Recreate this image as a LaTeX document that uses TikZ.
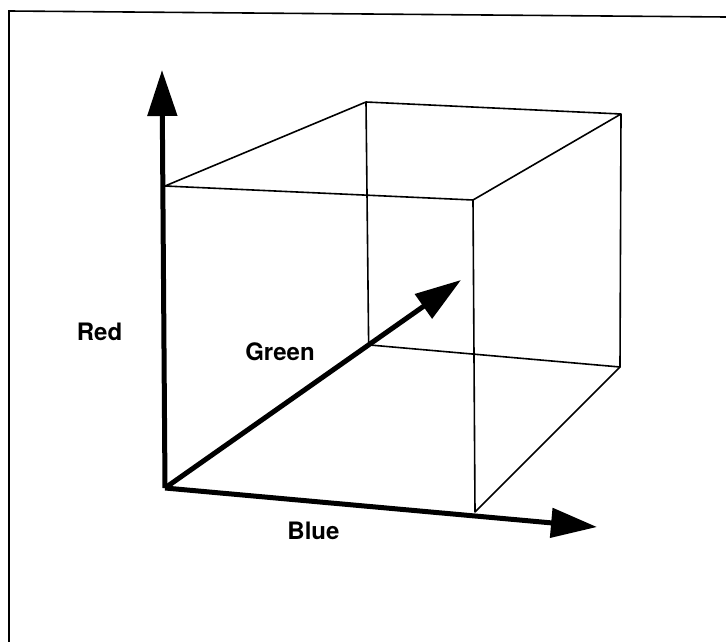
\documentclass[tikz,border=0pt]{standalone}
\usepackage{fontspec}
\setmainfont{TeX Gyre Heros}
\usetikzlibrary{arrows.meta,calc}

\begin{document}
\begin{tikzpicture}[x=1pt,y=-1pt,>={Triangle[length=46pt,width=29pt]}]
  \tikzstyle{axis}=[->, line width=5pt]
  \tikzstyle{edge}=[line width=1.6pt, line join=round]
  \tikzstyle{lbl}=[font=\fontsize{24}{28}\selectfont\bfseries, anchor=base, inner sep=0pt]
  \useasboundingbox (0,0) rectangle (726,642);
  % frame, cut at right and bottom
  \draw[line width=1.6pt] (9,642) -- (9,11) -- (726,17);
  % cube corners
  \coordinate (O) at (165,488);
  \coordinate (rtip) at (162,70);
  \coordinate (gtip) at (461,280);
  \coordinate (btip) at (597,527);
  \coordinate (ftl) at (165,186);
  \coordinate (ftr) at (473,200);
  \coordinate (btl) at (366,102);
  \coordinate (btr) at (621,114);
  \coordinate (bbl) at ($(O)!0.688!(gtip)$);
  \coordinate (bbr) at (620,367);
  \coordinate (fbr) at (475,512);
  \draw[edge] (ftl) -- (btl) -- (btr) -- (ftr) -- cycle;
  \draw[edge] (btl) -- (bbl) -- (bbr) -- (btr);
  \draw[edge] (bbr) -- (fbr) -- (ftr);
  % axes
  \draw[axis] (O) -- (rtip);
  \draw[axis] (O) -- (gtip);
  \draw[axis] (O) -- (btip);
  \node[lbl] (red) at (99.5,340) {Red};
  \node[lbl] (green) at (280,360) {Green};
  \node[lbl] (blue) at (313.5,539) {Blue};
\end{tikzpicture}
\end{document}
